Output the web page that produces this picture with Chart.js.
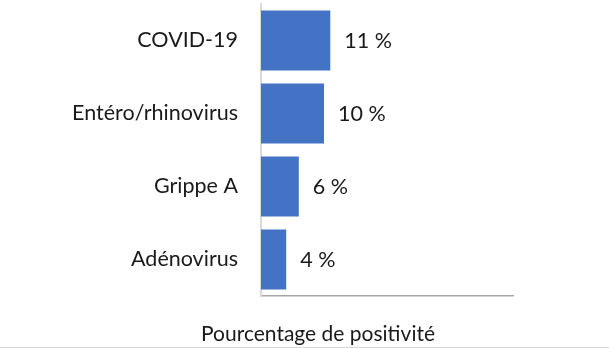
<!DOCTYPE html>
<html>
<head>
<meta charset="utf-8">
<script src="https://cdn.jsdelivr.net/npm/chart.js@4.4.1/dist/chart.umd.min.js"></script>
<style>
  html, body { margin: 0; padding: 0; background: #fff; }
  #wrap { width: 609px; height: 347px; border-bottom: 1px solid #d9d9d9; position: relative; }
</style>
</head>
<body>
<div id="wrap"><canvas id="c" width="609" height="347"></canvas></div>
<script>
const categories = ["COVID-19", "Entéro/rhinovirus", "Grippe A", "Adénovirus"];
const positivity = [11, 10, 6, 4];
const valueLabels = ["11 %", "10 %", "6 %", "4 %"];
const axisTitle = "Pourcentage de positivité";

const FONT = "Lato, 'Open Sans', sans-serif";
const FSIZE = 21.5;

const labelPlugin = {
  id: 'labels',
  afterDatasetsDraw(chart) {
    const ctx = chart.ctx;
    const meta = chart.getDatasetMeta(0);
    ctx.save();
    ctx.font = FSIZE + "px " + FONT;
    ctx.fillStyle = "#1a1a1a";
    ctx.textAlign = "left";
    ctx.textBaseline = "middle";
    meta.data.forEach((bar, i) => {
      ctx.fillText(valueLabels[i], bar.x + 14, bar.y + 1);
    });
    ctx.font = "21px " + FONT;
    ctx.textAlign = "center";
    ctx.fillText(axisTitle, chart.width / 2 + 13.5, 334);
    ctx.restore();
  }
};

new Chart(document.getElementById('c'), {
  type: 'bar',
  data: {
    labels: categories,
    datasets: [{
      data: positivity,
      backgroundColor: '#4472C4',
      borderWidth: 0,
      barPercentage: 0.82,
      categoryPercentage: 1.0
    }]
  },
  options: {
    indexAxis: 'y',
    responsive: false,
    animation: false,
    layout: { padding: { left: 0, right: 96, top: 4, bottom: 0 } },
    plugins: { legend: { display: false }, tooltip: { enabled: false } },
    scales: {
      x: {
        min: 0, max: 40,
        grid: { display: false, drawTicks: false },
        border: { display: true, color: '#a6a6a6', width: 1.5 },
        ticks: { display: false },
        afterFit(scale) { scale.height = 51; scale.paddingLeft = 0; scale.paddingRight = 0; }
      },
      y: {
        grid: { display: false, drawTicks: false },
        border: { display: true, color: '#d9d9d9', width: 2 },
        ticks: { color: '#1a1a1a', font: { family: FONT, size: FSIZE }, padding: 23 },
        afterFit(scale) { scale.width = 261; scale.paddingTop = 0; scale.paddingBottom = 0; }
      }
    }
  },
  plugins: [labelPlugin]
});
</script>
</body>
</html>
